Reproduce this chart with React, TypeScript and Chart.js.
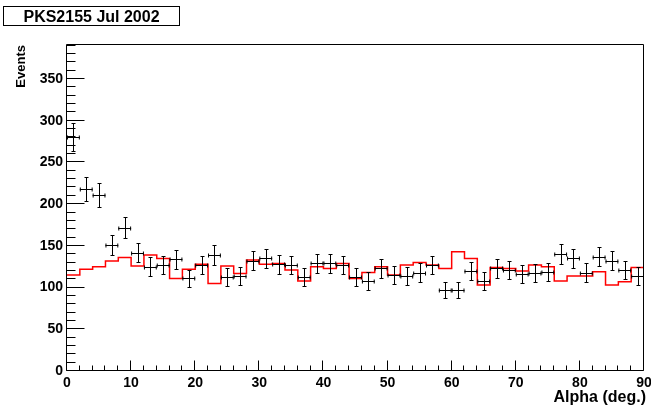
import React, { useEffect, useRef } from "react";
import { Chart, registerables } from "chart.js";

Chart.register(...registerables);

// ---- data ----
const X_MIN = 0;
const X_MAX = 90;
const BIN_WIDTH = 2;
const Y_MAX = 392;

const xTickLabels = [0, 10, 20, 30, 40, 50, 60, 70, 80, 90];
const yTickLabels = [0, 50, 100, 150, 200, 250, 300, 350];

// ON-source events per 2-degree alpha bin (black points)
const onCounts = [
  281, 218, 211, 151, 172, 142, 125, 127, 134, 111,
  127, 139, 113, 114, 132, 135, 128, 127, 113, 129,
  129, 127, 113, 108, 123, 115, 114, 118, 127, 97,
  97, 120, 108, 123, 121, 116, 117, 119, 140, 135,
  118, 137, 132, 121, 114,
];
// statistical errors on the black points
const onErrors = [
  16.8, 14.8, 14.5, 12.3, 13.1, 11.9, 11.2, 11.3, 11.6, 10.5,
  11.3, 11.8, 10.6, 10.7, 11.5, 11.6, 11.3, 11.3, 10.6, 11.4,
  11.4, 11.3, 10.6, 10.4, 11.1, 10.7, 10.7, 10.9, 11.3, 9.8,
  9.8, 11.0, 10.4, 11.1, 11.0, 10.8, 10.8, 10.9, 11.8, 11.6,
  10.9, 11.7, 11.5, 11.0, 10.7,
];
// OFF-source (background) histogram (red)
const offCounts = [
  115, 122, 125, 132, 136, 126, 139, 135, 111, 122,
  128, 105, 126, 117, 133, 128, 129, 121, 108, 125,
  123, 129, 111, 118, 125, 115, 127, 130, 127, 123,
  143, 135, 103, 124, 123, 120, 127, 125, 108, 114,
  114, 119, 103, 107, 124,
];

const FONT = '"Liberation Sans", Arial, Helvetica, sans-serif';

const onPoints = onCounts.map((v, i) => ({
  x: X_MIN + (i + 0.5) * BIN_WIDTH,
  y: v,
}));
const offPoints = offCounts.map((v, i) => ({ x: X_MIN + i * BIN_WIDTH, y: v }));
offPoints.push({ x: X_MAX, y: offCounts[offCounts.length - 1] });

const rootStyle = {
  id: "rootStyle",
  afterDatasetsDraw(chart: any) {
    const { ctx, chartArea, scales } = chart;
    const xs = scales.x;
    const ys = scales.y;
    ctx.save();
    // error bars
    ctx.beginPath();
    ctx.rect(chartArea.left, chartArea.top, chartArea.right - chartArea.left, chartArea.bottom - chartArea.top);
    ctx.clip();
    ctx.strokeStyle = "#000";
    ctx.lineWidth = 1;
    const pts = chart.data.datasets[1].data;
    const cap = 2;
    ctx.beginPath();
    pts.forEach((p: any, i: number) => {
      const err = onErrors[i];
      const cx = Math.round(xs.getPixelForValue(p.x)) + 0.5;
      const cy = Math.round(ys.getPixelForValue(p.y)) + 0.5;
      const x0 = xs.getPixelForValue(p.x - BIN_WIDTH / 2);
      const x1 = xs.getPixelForValue(p.x + BIN_WIDTH / 2);
      const y0 = Math.round(ys.getPixelForValue(p.y - err)) + 0.5;
      const y1 = Math.round(ys.getPixelForValue(p.y + err)) + 0.5;
      // horizontal
      ctx.moveTo(x0, cy);
      ctx.lineTo(x1, cy);
      ctx.moveTo(x0 + 0.5, cy - cap);
      ctx.lineTo(x0 + 0.5, cy + cap);
      ctx.moveTo(x1 - 0.5, cy - cap);
      ctx.lineTo(x1 - 0.5, cy + cap);
      // vertical
      ctx.moveTo(cx, y0);
      ctx.lineTo(cx, y1);
      ctx.moveTo(cx - cap, y0);
      ctx.lineTo(cx + cap, y0);
      ctx.moveTo(cx - cap, y1);
      ctx.lineTo(cx + cap, y1);
    });
    ctx.stroke();
    ctx.restore();

    ctx.save();
    ctx.strokeStyle = "#000";
    ctx.lineWidth = 1;
    const L = chartArea.left - 0.5;
    const R = chartArea.right - 0.5;
    const T = chartArea.top + 0.5;
    const B = chartArea.bottom - 0.5;
    ctx.beginPath();
    ctx.moveTo(L, T);
    ctx.lineTo(R, T);
    ctx.lineTo(R, B);
    ctx.lineTo(L, B);
    ctx.closePath();
    // y ticks
    for (let v = 0; v <= Y_MAX; v += 10) {
      const py = Math.round(ys.getPixelForValue(v)) - 0.5;
      const len = v % 50 === 0 ? 18 : 9;
      ctx.moveTo(L, py);
      ctx.lineTo(L + len, py);
    }
    // x ticks
    for (let v = X_MIN; v <= X_MAX; v += BIN_WIDTH) {
      const px = Math.round(xs.getPixelForValue(v)) - 0.5;
      const len = v % 10 === 0 ? 10 : 5;
      ctx.moveTo(px, B);
      ctx.lineTo(px, B - len);
    }
    ctx.stroke();

    // axis titles
    ctx.fillStyle = "#000";
    ctx.font = `bold 16px ${FONT}`;
    ctx.textAlign = "right";
    ctx.textBaseline = "alphabetic";
    ctx.fillText("Alpha (deg.)", 646, 402);
    ctx.translate(25, 45);
    ctx.rotate(-Math.PI / 2);
    ctx.font = `bold 13px ${FONT}`;
    ctx.textAlign = "right";
    ctx.fillText("Events", 0, 0);
    ctx.restore();
  },
};

export default function App() {
  const ref = useRef<HTMLCanvasElement>(null);
  useEffect(() => {
    const chart = new Chart(ref.current!, {
      type: "scatter",
      data: {
        datasets: [
          {
            type: "line",
            label: "OFF",
            data: offPoints,
            borderColor: "#ff0000",
            borderWidth: 1.5,
            pointRadius: 0,
            stepped: true,
            fill: false,
            tension: 0,
          } as any,
          {
            type: "scatter",
            label: "ON",
            data: onPoints,
            pointRadius: 0,
            showLine: false,
          },
        ],
      },
      options: {
        responsive: false,
        animation: false,
        devicePixelRatio: 1,
        layout: { padding: { left: 0, top: 44, right: 7, bottom: 0 } },
        plugins: {
          legend: { display: false },
          tooltip: { enabled: false },
          title: { display: false },
        },
        scales: {
          x: {
            type: "linear",
            min: X_MIN,
            max: X_MAX,
            grid: { display: false, drawTicks: false },
            border: { display: false },
            afterBuildTicks: (s: any) => {
              s.ticks = xTickLabels.map((v) => ({ value: v }));
            },
            afterFit: (s: any) => {
              s.height = 38;
              s.paddingLeft = 0;
              s.paddingRight = 0;
            },
            ticks: {
              autoSkip: false,
              maxRotation: 0,
              padding: 4,
              color: "#000",
              font: { family: FONT, size: 14, weight: "bold" },
            },
          },
          y: {
            type: "linear",
            min: 0,
            max: Y_MAX,
            grid: { display: false, drawTicks: false },
            border: { display: false },
            afterBuildTicks: (s: any) => {
              s.ticks = yTickLabels.map((v) => ({ value: v }));
            },
            afterFit: (s: any) => {
              s.width = 67;
              s.paddingTop = 0;
              s.paddingBottom = 0;
            },
            ticks: {
              autoSkip: false,
              padding: 4,
              color: "#000",
              font: { family: FONT, size: 14, weight: "bold" },
            },
          },
        },
      },
      plugins: [rootStyle],
    });
    return () => chart.destroy();
  }, []);
  return (
    <div style={{ position: "fixed", left: 0, top: 0, width: 651, height: 409, background: "#fff" }}>
      <canvas ref={ref} width={651} height={409} style={{ display: "block", width: 651, height: 409 }} />
      <div
        style={{
          position: "absolute",
          left: 3,
          top: 6,
          width: 175,
          height: 18,
          border: "1px solid #000",
          font: `bold 16px ${FONT}`,
          lineHeight: "19px",
          textAlign: "center",
          color: "#000",
        }}
      >
        PKS2155 Jul 2002
      </div>
    </div>
  );
}
